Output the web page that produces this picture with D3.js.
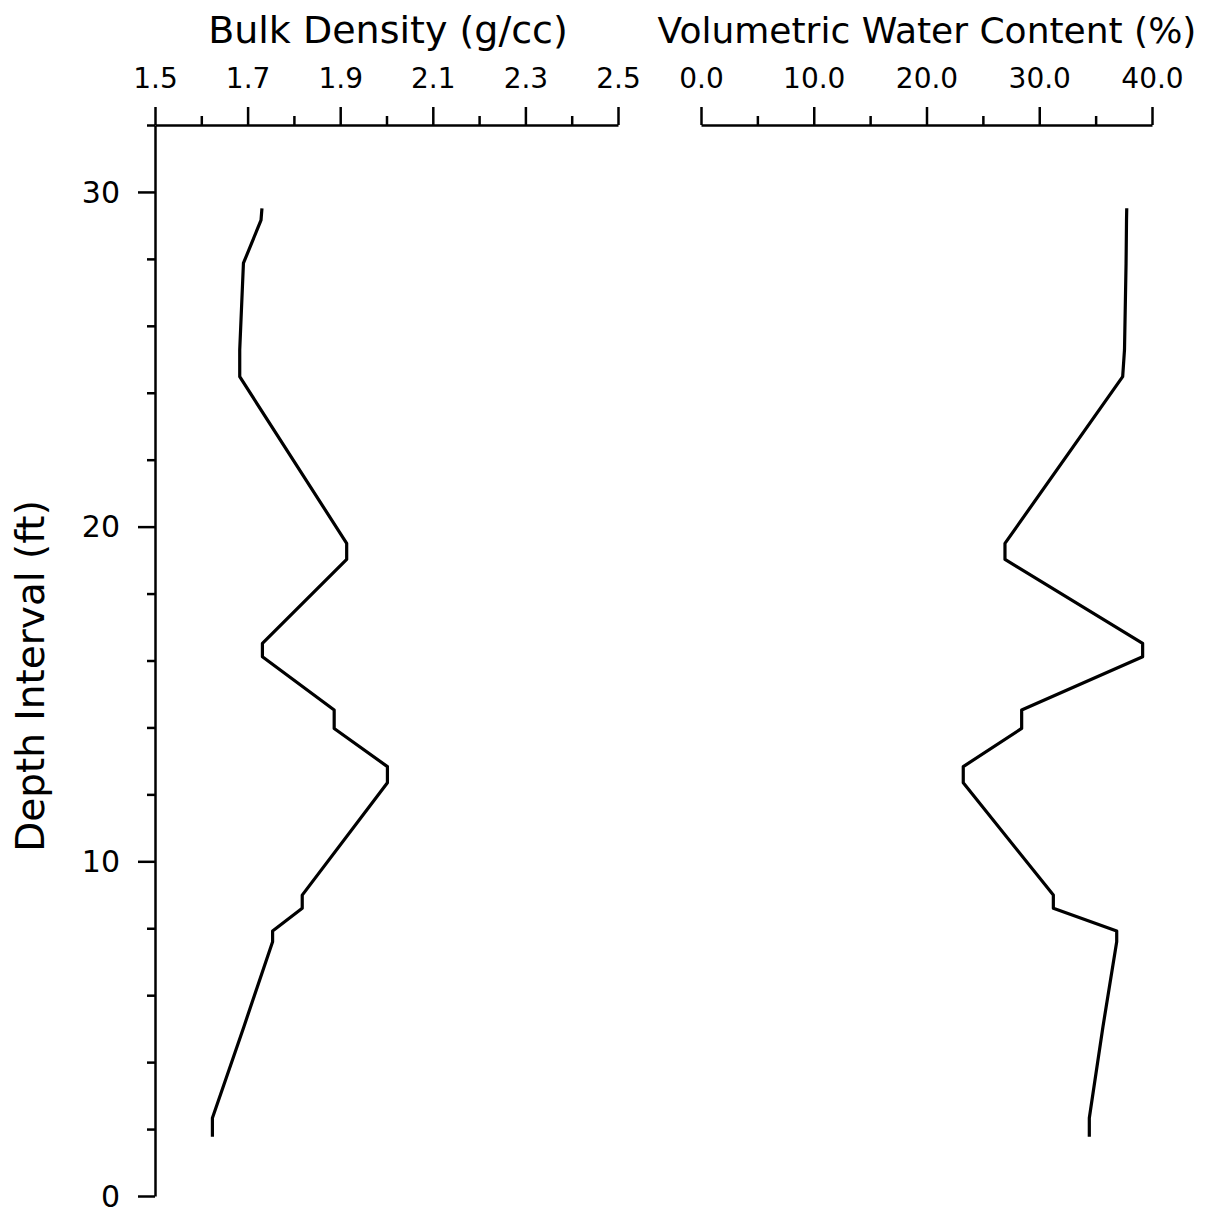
<!DOCTYPE html>
<html>
<head>
<meta charset="utf-8">
<script src="https://cdn.jsdelivr.net/npm/d3@7"></script>
<style>
  body { margin: 0; background: #fff; }
  text { font-family: "DejaVu Sans", sans-serif; fill: #000; }
</style>
</head>
<body>
<script>
// depth of each sample point (ft)
var depth = [29.51, 29.16, 27.87, 25.28, 24.48, 19.50, 19.02, 16.51, 16.11, 14.52,
             13.97, 12.83, 12.35, 8.99, 8.60, 7.92, 7.60, 5.06, 2.33, 1.77];
var bulkDensity = [1.731, 1.729, 1.691, 1.683, 1.683, 1.914, 1.914, 1.732, 1.732, 1.887,
                   1.887, 2.002, 2.002, 1.818, 1.818, 1.754, 1.754, 1.692, 1.624, 1.624];
var waterContent = [37.76, 37.74, 37.70, 37.56, 37.40, 26.96, 26.96, 39.17, 39.17, 28.44,
                    28.44, 23.26, 23.26, 31.25, 31.25, 36.87, 36.87, 35.65, 34.44, 34.44];

var depthMajor = [0, 10, 20, 30];
var depthMinor = [2, 4, 6, 8, 12, 14, 16, 18, 22, 24, 26, 28, 32];
var bdMajor = [1.5, 1.7, 1.9, 2.1, 2.3, 2.5];
var bdMinor = [1.6, 1.8, 2.0, 2.2, 2.4];
var wcMajor = [0, 10, 20, 30, 40];
var wcMinor = [5, 15, 25, 35];

var W = 1213, H = 1209;
var axisX = 155, axisTop = 125, axisBottom = 1196;

var svg = d3.select("body").append("svg")
  .attr("width", W)
  .attr("height", H);

var y = d3.scaleLinear().domain([0, 32]).range([axisBottom, axisTop]);
var xBD = d3.scaleLinear().domain([1.5, 2.5]).range([155, 618]);
var xWC = d3.scaleLinear().domain([0, 40]).range([701, 1152]);

function styleAxis(g) {
  g.selectAll("path, line").attr("stroke", "#000").attr("stroke-width", 2.5);
  g.selectAll("text").attr("font-family", "DejaVu Sans, sans-serif");
}

// depth axis
svg.append("g")
  .attr("transform", "translate(" + axisX + ",0)")
  .call(d3.axisLeft(y).tickValues(depthMinor).tickSize(8).tickSizeOuter(0).tickFormat(""))
  .call(styleAxis);
svg.append("g")
  .attr("transform", "translate(" + axisX + ",0)")
  .call(d3.axisLeft(y).tickValues(depthMajor).tickSize(17).tickPadding(18).tickFormat(d3.format("d")))
  .call(function(g) { g.select(".domain").remove(); })
  .call(styleAxis)
  .selectAll("text").attr("font-size", 30).attr("dy", "0.34em");

// bulk density axis
svg.append("g")
  .attr("transform", "translate(0," + axisTop + ")")
  .call(d3.axisTop(xBD).tickValues(bdMinor).tickSize(9).tickSizeOuter(0).tickFormat(""))
  .call(styleAxis);
svg.append("g")
  .attr("transform", "translate(0," + axisTop + ")")
  .call(d3.axisTop(xBD).tickValues(bdMajor).tickSize(18).tickPadding(19).tickFormat(d3.format(".1f")))
  .call(function(g) { g.select(".domain").remove(); })
  .call(styleAxis)
  .selectAll("text").attr("font-size", 28);

// water content axis
svg.append("g")
  .attr("transform", "translate(0," + axisTop + ")")
  .call(d3.axisTop(xWC).tickValues(wcMinor).tickSize(9).tickSizeOuter(0).tickFormat(""))
  .call(styleAxis);
svg.append("g")
  .attr("transform", "translate(0," + axisTop + ")")
  .call(d3.axisTop(xWC).tickValues(wcMajor).tickSize(18).tickPadding(19).tickFormat(d3.format(".1f")))
  .call(function(g) { g.select(".domain").remove(); })
  .call(styleAxis)
  .selectAll("text").attr("font-size", 28);

// titles
svg.append("text")
  .attr("x", 388)
  .attr("y", 43)
  .attr("text-anchor", "middle")
  .attr("font-size", 38)
  .text("Bulk Density (g/cc)");

svg.append("text")
  .attr("x", 927)
  .attr("y", 43)
  .attr("text-anchor", "middle")
  .attr("font-size", 36)
  .text("Volumetric Water Content (%)");

svg.append("text")
  .attr("transform", "translate(44,676) rotate(-90)")
  .attr("text-anchor", "middle")
  .attr("font-size", 39)
  .text("Depth Interval (ft)");

// profiles
var idx = d3.range(depth.length);

var bdLine = d3.line()
  .x(function(i) { return xBD(bulkDensity[i]); })
  .y(function(i) { return y(depth[i]); });

var wcLine = d3.line()
  .x(function(i) { return xWC(waterContent[i]); })
  .y(function(i) { return y(depth[i]); });

svg.append("path")
  .datum(idx)
  .attr("d", bdLine)
  .attr("fill", "none")
  .attr("stroke", "#000")
  .attr("stroke-width", 3.2)
  .attr("stroke-linejoin", "round");

svg.append("path")
  .datum(idx)
  .attr("d", wcLine)
  .attr("fill", "none")
  .attr("stroke", "#000")
  .attr("stroke-width", 3.2)
  .attr("stroke-linejoin", "round");
</script>
</body>
</html>
